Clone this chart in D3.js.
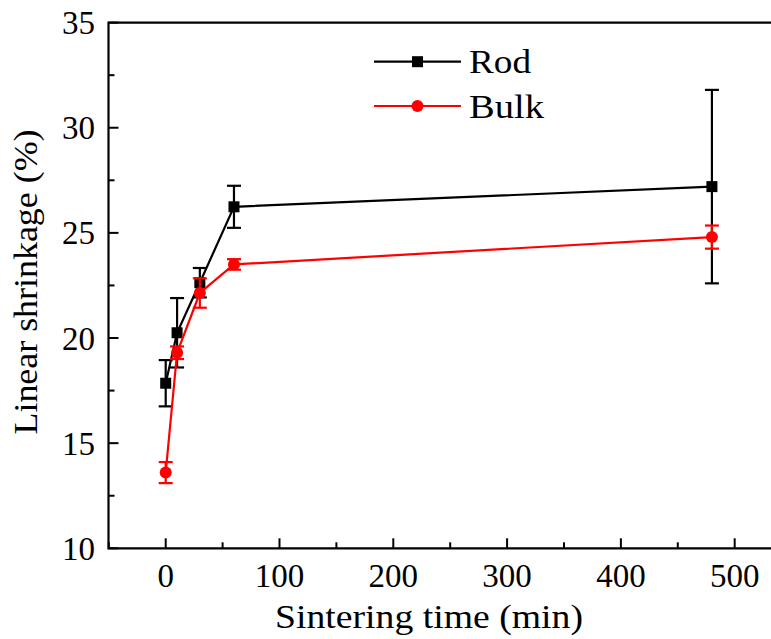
<!DOCTYPE html>
<html><head><meta charset="utf-8">
<script src="https://cdn.jsdelivr.net/npm/d3@7"></script>
<style>body{margin:0;background:#fff}svg{display:block}</style>
</head><body>
<svg id="c" width="771" height="639"></svg>
<script>
const times = [0, 10, 30, 60, 480];
const rodValues = [17.85, 20.25, 22.63, 26.24, 27.2];
const rodErrors = [1.1, 1.65, 0.7, 1.0, 4.6];
const bulkValues = [13.6, 19.3, 22.14, 23.5, 24.8];
const bulkErrors = [0.5, 0.3, 0.7, 0.25, 0.55];
const xTicks = [0, 100, 200, 300, 400, 500];
const yTicks = [10, 15, 20, 25, 30, 35];
const seriesNames = ["Rod", "Bulk"];

const svg = d3.select("#c");
const font = "'Liberation Serif','Times New Roman',serif";
const L = 108.5, T = 22.6, B = 548.3;
const x = d3.scaleLinear().domain([-50, 540]).range([108.8, 780.2]);
const y = d3.scaleLinear().domain([10, 35]).range([B, T]);

const xMinor = d3.range(-50, 541, 50).filter(v => v % 100 !== 0);
const yMinor = d3.range(12.5, 35, 5);
const g = svg.append("g");
g.selectAll(".xmaj").data(xTicks).join("line")
  .attr("x1", d => x(d)).attr("x2", d => x(d)).attr("y1", B).attr("y2", B - 10)
  .attr("stroke", "#000").attr("stroke-width", 2);
g.selectAll(".xmin").data(xMinor).join("line")
  .attr("x1", d => x(d)).attr("x2", d => x(d)).attr("y1", B).attr("y2", B - 6)
  .attr("stroke", "#000").attr("stroke-width", 2);
g.selectAll(".ymaj").data(yTicks).join("line")
  .attr("x1", L).attr("x2", L + 10).attr("y1", d => y(d)).attr("y2", d => y(d))
  .attr("stroke", "#000").attr("stroke-width", 2);
g.selectAll(".ymin").data(yMinor).join("line")
  .attr("x1", L).attr("x2", L + 6).attr("y1", d => y(d)).attr("y2", d => y(d))
  .attr("stroke", "#000").attr("stroke-width", 2);

svg.append("path").attr("d", `M780,${T}H${L}V${B}H780`)
  .attr("fill", "none").attr("stroke", "#000").attr("stroke-width", 2.2);

svg.selectAll(".xl").data(xTicks).join("text")
  .attr("x", d => x(d)).attr("y", 587).attr("text-anchor", "middle")
  .attr("font-family", font).attr("font-size", 33).text(d => d);
svg.selectAll(".yl").data(yTicks).join("text")
  .attr("x", 95).attr("y", d => y(d) + 11.5).attr("text-anchor", "end")
  .attr("font-family", font).attr("font-size", 33).text(d => d);

svg.append("text").attr("x", 429).attr("y", 628).attr("text-anchor", "middle")
  .attr("font-family", font).attr("font-size", 33)
  .attr("textLength", 308).attr("lengthAdjust", "spacingAndGlyphs").text("Sintering time (min)");
svg.append("text").attr("transform", `translate(37,282) rotate(-90)`).attr("text-anchor", "middle")
  .attr("font-family", font).attr("font-size", 33)
  .attr("textLength", 305).attr("lengthAdjust", "spacingAndGlyphs").text("Linear shrinkage (%)");

function drawSeries(vals, errs, color, shape) {
  const pts = times.map((t, i) => ({t, v: vals[i], e: errs[i]}));
  const eg = svg.append("g").attr("stroke", color).attr("stroke-width", 2.2);
  pts.forEach(p => {
    eg.append("line").attr("x1", x(p.t)).attr("x2", x(p.t)).attr("y1", y(p.v - p.e)).attr("y2", y(p.v + p.e));
    eg.append("line").attr("x1", x(p.t) - 7).attr("x2", x(p.t) + 7).attr("y1", y(p.v + p.e)).attr("y2", y(p.v + p.e));
    eg.append("line").attr("x1", x(p.t) - 7).attr("x2", x(p.t) + 7).attr("y1", y(p.v - p.e)).attr("y2", y(p.v - p.e));
  });
  svg.append("path").datum(pts).attr("fill", "none").attr("stroke", color).attr("stroke-width", 2.2)
    .attr("d", d3.line().x(d => x(d.t)).y(d => y(d.v)));
  if (shape === "square") {
    svg.selectAll(null).data(pts).join("rect")
      .attr("x", d => x(d.t) - 5.5).attr("y", d => y(d.v) - 5.5).attr("width", 11).attr("height", 11).attr("fill", color);
  } else {
    svg.selectAll(null).data(pts).join("circle")
      .attr("cx", d => x(d.t)).attr("cy", d => y(d.v)).attr("r", 6).attr("fill", color);
  }
}
drawSeries(rodValues, rodErrors, "#000", "square");
drawSeries(bulkValues, bulkErrors, "#ff0000", "circle");

const leg = [{name: seriesNames[0], color: "#000", shape: "square", yy: 61.7, len: 62},
             {name: seriesNames[1], color: "#ff0000", shape: "circle", yy: 106, len: 75}];
leg.forEach(l => {
  svg.append("line").attr("x1", 374).attr("x2", 461).attr("y1", l.yy).attr("y2", l.yy)
    .attr("stroke", l.color).attr("stroke-width", 2.2);
  if (l.shape === "square") svg.append("rect").attr("x", 417.5 - 5.5).attr("y", l.yy - 5.5).attr("width", 11).attr("height", 11).attr("fill", l.color);
  else svg.append("circle").attr("cx", 417.5).attr("cy", l.yy).attr("r", 6).attr("fill", l.color);
  svg.append("text").attr("x", 469).attr("y", l.yy + 11.5).attr("font-family", font).attr("font-size", 33)
    .attr("textLength", l.len).attr("lengthAdjust", "spacingAndGlyphs").text(l.name);
});
</script>
</body></html>
